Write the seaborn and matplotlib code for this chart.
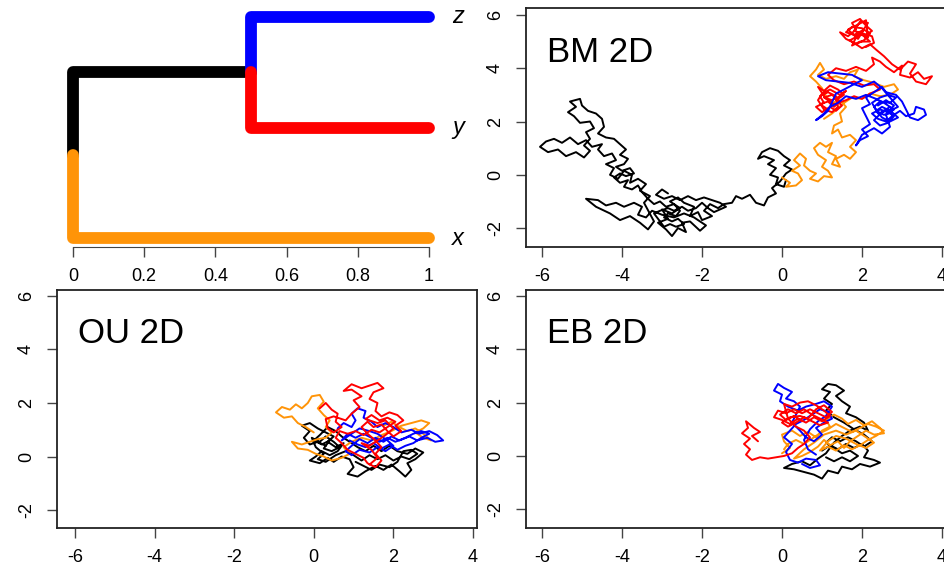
import seaborn as sns
import matplotlib
matplotlib.use('Agg')
import matplotlib.pyplot as plt

sns.set_style('white')
plt.rcParams['font.family'] = ['Liberation Sans', 'DejaVu Sans']
plt.rcParams['axes.unicode_minus'] = False
plt.rcParams['text.color'] = 'black'

# tree: tip order (bottom to top), node times
tip_names = ['x', 'y', 'z']
tip_pos = [1, 2, 3]
node_time = 0.5
root_pos = 1.75
node_pos = 2.5
tree_ticks = [0, 0.2, 0.4, 0.6, 0.8, 1]
tree_tick_labels = ['0', '0.2', '0.4', '0.6', '0.8', '1']

col_black = 'black'
col_orange = '#FF9408'
col_blue = '#0000FF'
col_red = '#FF0000'

# ---- BM 2D traces
bm_black = [(0.10,-0.20),(0.05,-0.45),(-0.15,-0.35),(-0.10,-0.10),(-0.30,0.00),(-0.15,0.25),(-0.35,0.40),(-0.20,0.55),
    (-0.45,0.70),(-0.60,0.60),(-0.50,0.85),(-0.30,1.00),(-0.10,0.90),(0.05,0.70),(0.20,0.55),(0.05,0.35),(0.25,0.20),
    (0.10,0.05),(-0.05,-0.25),(-0.25,-0.50),(-0.15,-0.70),(-0.35,-0.85),(-0.45,-1.15),(-0.65,-1.05),(-0.80,-0.75),
    (-1.00,-0.90),(-1.15,-0.80),(-1.25,-1.05),(-1.45,-1.10),(-1.60,-1.25),(-1.80,-1.10),(-1.95,-1.35),(-1.75,-1.55),
    (-2.00,-1.70),(-2.10,-1.40),(-2.30,-1.55),(-2.20,-1.20),(-2.45,-1.05),(-2.60,-0.85),(-2.80,-1.00),(-2.55,-1.25),
    (-2.75,-1.45),(-3.00,-1.30),(-2.85,-1.65),(-3.10,-1.80),(-2.90,-2.05),(-2.75,-2.30),(-2.60,-2.00),(-2.40,-2.15),
    (-2.50,-1.80),(-2.30,-1.75),(-2.05,-2.10),(-1.90,-1.90),(-2.20,-1.60),(-2.45,-1.45),(-2.70,-1.60),(-3.00,-1.50),
    (-3.25,-1.35),(-3.40,-1.60),(-3.60,-1.50),(-3.50,-1.20),(-3.70,-1.05),(-3.95,-1.20),(-4.15,-1.05),(-4.40,-1.15),
    (-4.60,-0.95),(-4.90,-0.90),(-4.65,-1.20),(-4.30,-1.45),(-4.05,-1.70),(-3.80,-1.55),(-3.55,-1.80),(-3.35,-2.05),
    (-3.20,-1.75),(-3.45,-1.05),(-3.30,-0.80),(-3.55,-0.60),(-3.40,-0.35),(-3.60,-0.15),(-3.80,-0.30),(-3.75,0.00),
    (-3.95,0.15),(-4.10,-0.15),(-4.30,0.00),(-4.20,0.25),(-4.40,0.40),(-4.15,0.55),(-4.25,0.80),(-4.45,0.70),
    (-4.60,0.95),(-4.50,1.15),(-4.75,1.05),(-4.90,1.30),(-5.10,1.15),(-5.30,1.40),(-5.50,1.20),(-5.70,1.35),
    (-5.90,1.25),(-6.05,1.05),(-5.85,0.85),(-5.60,0.95),(-5.40,0.70),(-5.15,0.85),(-4.95,0.65),(-4.80,0.90),
    (-4.95,1.10),(-4.80,1.35),(-4.90,1.60),(-4.70,1.75),(-4.80,2.00),(-5.05,1.95),(-5.20,2.20),(-5.35,2.35),
    (-5.15,2.55),(-5.30,2.75),(-5.05,2.85),(-5.00,2.60),(-4.85,2.40),(-4.65,2.30),(-4.50,2.10),(-4.45,1.80),
    (-4.60,1.55),(-4.40,1.40),(-4.20,1.35),(-4.05,1.15),(-3.90,0.95),(-4.05,0.75),(-3.85,0.60),(-3.95,0.40),
    (-4.15,0.30),(-4.00,0.15),(-3.80,0.25),(-3.70,0.05),(-3.90,-0.05),(-4.05,0.05),(-4.20,-0.10),(-4.05,-0.30),
    (-3.85,-0.20),(-3.95,-0.45),(-3.75,-0.55),(-3.60,-0.40),(-3.50,-0.65),(-3.35,-0.90),(-3.20,-1.10),(-3.05,-1.00),
    (-2.90,-1.20),(-2.70,-1.10),(-2.55,-1.35),(-2.65,-1.55),(-2.85,-1.45),(-2.95,-1.60),(-2.75,-1.75),(-2.60,-1.65),
    (-2.45,-1.85),(-2.65,-1.95),(-2.80,-1.85),(-2.95,-1.95),(-3.10,-1.65),(-3.20,-1.45),(-3.05,-1.35),(-2.85,-1.25),
    (-2.70,-1.35),(-2.50,-1.20),(-2.35,-1.35),(-2.15,-1.25),(-2.00,-1.05),(-1.85,-1.25),(-1.70,-1.40),(-1.55,-1.30),
    (-1.40,-1.20),(-1.55,-1.05),(-1.75,-0.95),(-1.95,-0.85),(-2.15,-0.95),(-2.35,-0.80),(-2.55,-0.95),(-2.75,-0.80),
    (-2.95,-0.90),(-3.15,-0.75),(-3.00,-0.55),(-2.85,-0.70)]
bm_orange = [(0.00,-0.10),(0.20,-0.30),(0.10,-0.45),(0.35,-0.40),(0.50,-0.20),(0.40,0.05),(0.25,0.15),(0.45,0.35),
    (0.30,0.55),(0.45,0.80),(0.60,0.60),(0.55,0.35),(0.70,0.15),(0.85,0.05),(0.70,-0.15),(0.90,-0.25),(1.05,-0.05),
    (1.25,-0.10),(1.15,0.15),(1.00,0.30),(1.10,0.55),(0.90,0.75),(0.80,1.00),(0.95,1.20),(1.10,1.05),(1.25,1.20),
    (1.15,0.85),(1.35,0.70),(1.25,0.40),(1.45,0.30),(1.35,0.60),(1.55,0.75),(1.70,0.60),(1.85,0.85),(1.70,1.05),
    (1.85,1.30),(1.70,1.50),(1.50,1.40),(1.40,1.70),(1.25,1.55),(1.30,1.85),(1.50,2.00),(1.45,2.30),(1.60,2.55),
    (1.45,2.80),(1.25,2.70),(1.10,2.95),(1.00,3.25),(0.85,3.50),(0.70,3.70),(0.85,3.95),(0.95,4.20),(1.05,3.95),
    (0.90,3.75),(1.10,3.60),(1.35,3.70),(1.55,3.60),(1.70,3.85),(1.90,3.95),(1.80,3.70),(2.05,3.55),(2.30,3.45),
    (2.55,3.30),(2.80,3.40),(2.90,3.20),(2.70,3.00),(2.45,2.95),(2.20,3.05),(2.00,2.85),(1.75,2.90),(1.55,2.70),
    (1.40,2.50),(1.25,2.30),(1.05,2.10)]
bm_blue = [(2.40,2.60),(2.60,2.80),(2.80,2.60),(2.65,2.35),(2.45,2.45),(2.25,2.30),(2.40,2.10),(2.60,2.00),(2.75,2.20),
    (2.95,2.40),(3.10,2.20),(3.30,2.30),(3.35,2.55),(3.55,2.45),(3.60,2.25),(3.40,2.05),(3.20,2.15),(3.00,2.75),
    (2.85,3.00),(2.60,3.10),(2.50,3.30),(2.30,3.10),(2.10,2.90),(2.20,2.65),(2.00,2.50),(2.10,2.20),(2.20,1.90),
    (2.00,1.70),(2.15,1.45),(1.95,1.30),(1.85,1.10),(2.00,1.50),(2.30,1.75),(2.50,1.55),(2.70,1.80),(2.60,2.25),
    (2.80,2.45),(2.55,2.70),(2.35,2.85),(2.10,3.00),(1.85,2.85),(1.60,2.95),(1.40,2.70),(1.20,2.55),(1.05,2.30),
    (0.85,2.05),(1.00,2.20),(1.15,2.40),(1.35,3.05),(1.55,3.20),(1.80,3.40),(2.00,3.55),(1.75,3.75),(1.45,3.80),
    (1.15,3.85),(0.90,3.70),(1.10,3.55),(1.40,3.50),(1.70,3.45),(2.00,3.30),(2.30,3.50),(2.50,3.25),(2.70,2.90),
    (2.90,2.55),(2.70,2.40),(2.50,2.55),(2.35,2.40),(2.55,2.25),(2.75,2.35),(2.90,2.15),(2.70,2.00),(2.50,2.15),
    (2.30,2.55),(2.45,2.75),(2.70,2.70),(2.85,2.90),(2.65,3.00),(2.45,2.90),(2.25,2.70),(2.40,2.30),(2.60,2.40),
    (2.80,2.20),(2.65,1.95),(2.45,1.85),(2.30,2.05),(2.50,2.35),(2.70,2.55)]
bm_red = [(1.10,2.50),(0.95,2.65),(1.15,2.75),(1.30,2.55),(1.45,2.75),(1.25,3.00),(1.05,2.90),(1.25,2.80),(1.45,2.95),
    (1.60,3.15),(1.45,3.00),(1.20,3.20),(1.00,3.05),(0.90,2.80),(1.05,2.45),(1.25,2.35),(1.40,2.55),
    (1.35,2.95),(1.15,3.10),(0.95,2.95),(1.05,2.70),(0.85,2.55),(1.00,2.35),(1.20,2.55),(1.35,2.40),(1.50,2.60),
    (1.35,2.80),(1.55,3.00),(1.40,3.20),(1.20,3.35),(1.05,3.15),(0.90,3.30),(1.10,2.85),(1.30,2.65),(1.60,2.80),
    (1.80,2.95),(2.00,2.85),(2.20,3.05),(2.45,3.20),(2.30,3.40),(2.05,3.35),(1.80,3.50),(1.55,3.40),(1.30,3.55),
    (1.15,3.75),(1.35,4.00),(1.60,3.90),(1.85,4.05),(2.10,3.90),(2.30,4.15),(2.25,4.40),(2.45,4.25),(2.60,4.05),
    (2.80,3.85),(3.00,4.10),(2.95,3.75),(3.20,3.65),(3.40,3.85),(3.55,3.60),(3.75,3.70),(3.60,3.40),(3.35,3.50),
    (3.20,3.80),(3.35,4.15),(3.15,4.25),(2.95,3.95),(2.75,4.15),(2.55,4.45),(2.35,4.70),(2.20,4.90),(2.00,4.75),
    (1.80,4.95),(1.60,5.10),(1.45,5.35),(1.65,5.20),(1.85,5.45),(1.75,5.70),(1.95,5.85),(2.10,5.60),(2.25,5.40),
    (2.05,5.20),(2.20,5.00),(1.95,5.00),(1.75,4.85),(1.90,5.30),(2.15,5.15),(2.10,5.80),(1.85,5.60),(1.65,5.45),
    (1.90,5.10),(2.05,5.45),(1.80,5.25),(1.60,5.35),(1.75,5.55),(2.00,5.50),(2.20,5.30),(2.05,5.05),(1.85,4.90),
    (1.70,5.05),(1.95,5.25),(2.15,5.70),(1.95,5.75),(1.80,5.40),(2.25,5.20),(2.30,4.95),(2.10,4.80)]

# ---- OU 2D traces
ou_black = [(0.30,0.40),(0.10,0.55),(-0.10,0.45),(-0.25,0.70),(-0.10,0.95),(-0.30,1.15),(-0.10,1.25),(0.10,1.05),
    (0.30,0.90),(0.50,0.75),(0.35,0.55),(0.55,0.35),(0.75,0.50),(0.60,0.20),(0.40,0.05),(0.20,0.20),(0.05,0.00),
    (-0.10,-0.15),(0.15,-0.25),(0.35,-0.05),(0.50,-0.20),(0.70,0.00),(0.90,-0.10),(1.00,-0.40),(0.85,-0.65),
    (1.10,-0.75),(1.30,-0.55),(1.55,-0.35),(1.75,-0.50),(1.95,-0.30),(2.15,-0.55),(2.30,-0.75),(2.45,-0.50),
    (2.35,-0.25),(2.55,-0.10),(2.75,0.15),(2.55,0.30),(2.35,0.10),(2.10,0.20),(1.90,0.40),(1.70,0.20),(1.50,0.40),
    (1.30,0.20),(1.10,0.35),(0.90,0.55),(0.70,0.75),(0.55,0.95),(0.35,1.10),(0.15,0.80),(0.00,0.60),(0.20,0.45),
    (0.40,0.60),(0.25,0.30),(0.45,0.20),(0.65,0.35),(0.50,0.55),(0.30,0.75),(0.15,0.55),(-0.05,0.70),(0.05,0.35),
    (0.25,0.10),(0.10,-0.10),(0.30,-0.20),(0.55,0.05),(0.80,0.20),(1.00,0.05),(1.20,-0.15),(1.40,0.05),(1.60,-0.10),
    (1.80,0.05),(2.00,-0.15),(2.20,0.00),(2.40,-0.10),(2.60,0.10),(2.45,0.25),(2.25,0.20),(2.10,-0.20),(1.90,-0.40),
    (1.65,-0.30),(1.45,-0.50),(1.25,-0.35),(1.05,-0.20)]
ou_orange = [(0.00,0.90),(-0.20,1.10),(-0.40,1.25),(-0.55,1.50),(-0.75,1.45),(-0.95,1.65),(-0.80,1.85),(-0.60,1.75),
    (-0.45,1.95),(-0.30,1.80),(-0.15,2.00),(-0.05,2.25),(0.15,2.30),(0.25,2.05),(0.10,1.80),(0.25,1.55),(0.40,1.35),
    (0.30,1.10),(0.45,0.90),(0.30,0.70),(0.10,0.65),(-0.10,0.55),(-0.30,0.45),(-0.55,0.55),(-0.40,0.30),(-0.15,0.25),
    (0.05,0.10),(0.25,0.00),(0.45,-0.15),(0.70,-0.05),(0.90,0.10),(0.75,0.35),(0.95,0.55),(1.20,0.70),(1.45,0.60),
    (1.70,0.80),(1.95,0.95),(2.20,1.15),(2.45,1.25),(2.70,1.35),(2.90,1.25),(2.75,1.05),(2.55,0.90),(2.75,0.70),
    (2.95,0.60),(2.75,0.85),(2.55,1.05),(2.35,0.95),(2.15,1.10),(1.95,1.30),(1.75,1.15)]
ou_blue = [(0.60,1.05),(0.75,1.25),(0.95,1.10),(1.05,1.35),(0.95,1.60),(1.10,1.80),(1.30,1.70),(1.25,1.45),(1.45,1.30),
    (1.60,1.10),(1.80,1.25),(2.00,1.10),(2.20,0.90),(2.45,1.00),(2.65,0.85),(2.90,0.95),(3.10,0.80),(3.25,0.60),
    (3.05,0.55),(2.85,0.70),(2.60,0.60),(2.40,0.75),(2.15,0.60),(1.95,0.75),(1.75,0.55),(1.55,0.70),(1.35,0.50),
    (1.15,0.65),(0.95,0.40),(0.80,0.20),(0.95,0.05),(1.15,0.25),(1.40,0.15),(1.60,0.35),(1.80,0.20),(2.00,0.40),
    (1.85,0.60),(1.60,0.85),(1.40,0.95),(1.15,1.05),(0.90,0.80),(0.70,0.60),(0.85,0.85),(1.05,0.70),(1.25,0.85),
    (1.45,0.70),(1.65,0.55),(1.85,0.70),(2.05,0.55),(2.30,0.70),(2.50,0.85),(2.70,0.95),(2.90,0.85),(2.70,0.70),
    (2.50,0.50),(2.30,0.40),(2.10,0.25),(1.90,0.45),(1.70,0.30),(1.50,0.50),(1.30,0.35),(1.10,0.45),(0.90,0.60)]
ou_red = [(0.15,1.80),(0.30,2.00),(0.45,1.75),(0.60,1.60),(0.55,1.30),(0.70,1.10),(0.50,0.90),(0.35,1.05),(0.30,1.40),
    (0.50,1.50),(0.80,1.35),(0.95,1.60),(1.15,1.85),(1.00,2.10),(1.20,2.25),(0.95,2.50),(0.75,2.45),(0.95,2.70),
    (1.20,2.55),(1.40,2.65),(1.60,2.75),(1.75,2.55),(1.50,2.40),(1.40,2.15),(1.60,2.00),(1.55,1.70),(1.70,1.50),
    (1.90,1.65),(2.10,1.55),(2.25,1.35),(2.05,1.15),(2.20,0.95),(2.00,0.75),(1.85,0.95),(1.70,1.20),(1.50,1.10),
    (1.35,1.30),(1.20,1.10),(1.35,0.85),(1.55,0.60),(1.70,0.35),(1.55,0.10),(1.70,-0.15),(1.55,-0.40),(1.35,-0.25),
    (1.25,-0.05),(1.05,0.10),(0.85,0.25),(0.70,0.50),(0.55,0.70),(0.65,0.95),(0.85,0.85),(1.05,0.95),(1.25,0.80),
    (1.45,1.00),(1.65,0.90),(1.85,1.10),(2.05,1.30),(1.85,1.45),(1.65,1.35),(1.45,1.55),(1.30,1.40),(1.60,1.25),
    (1.80,1.35),(2.00,1.05),(1.80,0.80),(1.60,0.60),(1.40,0.40),(1.20,0.50),(1.45,0.25),(1.60,-0.05),(1.40,-0.30)]

# ---- EB 2D traces
eb_black = [(1.00,0.20),(1.20,0.40),(1.40,0.25),(1.60,0.45),(1.80,0.30),(2.00,0.45),(2.15,0.20),(2.05,-0.05),
    (2.30,-0.15),(2.45,-0.25),(2.20,-0.40),(1.95,-0.30),(1.75,-0.50),(1.50,-0.40),(1.40,-0.65),(1.15,-0.55),
    (1.00,-0.85),(0.80,-0.70),(0.55,-0.60),(0.30,-0.50),(0.05,-0.45),(0.25,-0.30),(0.50,-0.20),(0.70,-0.35),
    (0.90,-0.10),(1.10,0.10),(1.30,0.50),(1.50,0.75),(1.70,0.95),(1.95,1.10),(2.15,0.95),(2.05,1.25),(1.85,1.45),
    (1.60,1.60),(1.70,1.85),(1.50,2.05),(1.35,2.25),(1.55,2.45),(1.35,2.65),(1.15,2.70),(1.00,2.50),(1.20,2.40),
    (1.05,2.15),(1.25,1.95),(1.10,1.70),(1.30,1.45),(1.55,1.25),(1.80,1.00),(2.05,0.80),(2.25,0.55),(2.05,0.35),
    (1.85,0.55),(1.65,0.70),(1.45,0.55),(1.25,0.70),(1.10,0.50),(1.30,0.30),(1.50,0.10),(1.70,0.20),(1.90,0.00),
    (1.70,-0.20),(1.50,-0.05),(1.30,-0.20),(1.10,-0.05)]
eb_orange = [(0.00,0.10),(0.20,0.30),(0.05,0.55),(0.00,0.80),(0.25,0.95),(0.45,0.75),(0.65,0.90),(0.85,0.70),
    (1.00,0.95),(1.20,1.10),(1.10,1.35),(1.30,1.55),(1.50,1.40),(1.65,1.20),(1.85,1.35),(2.05,1.15),(2.25,1.30),
    (2.45,1.05),(2.55,0.85),(2.30,0.80),(2.10,0.95),(1.90,0.75),(1.70,0.55),(1.55,0.30),(1.40,0.55),(1.20,0.40),
    (1.05,0.60),(0.90,0.35),(0.70,0.15),(0.50,0.00),(0.30,-0.10),(0.55,0.25),(0.80,0.50),(1.05,0.80),(1.35,0.95),
    (1.60,0.80),(1.85,0.95),(2.10,0.70),(2.30,0.50),(2.10,0.30),(1.85,0.45),(1.60,0.65),(1.35,0.75),(1.15,0.55),
    (0.95,0.20),(1.15,0.35),(1.35,0.20),(1.55,0.40),(1.75,0.25),(1.95,0.40),(2.15,0.60),(2.35,0.75),(2.55,0.95),
    (2.35,1.10),(2.15,1.20),(1.95,1.05),(1.75,0.90),(1.55,1.05),(1.35,1.20),(1.15,1.00),(0.95,0.85),(0.75,0.65),
    (0.55,0.45),(0.35,0.60),(0.15,0.45),(0.05,0.25)]
eb_blue = [(0.50,-0.30),(0.70,-0.45),(0.95,-0.35),(0.85,-0.15),(0.60,-0.10),(0.40,-0.25),(0.20,-0.15),(0.10,0.15),
    (0.25,0.45),(0.05,0.70),(0.20,0.95),(0.35,1.20),(0.55,1.35),(0.75,1.55),(0.95,1.75),(1.15,1.65),(1.25,1.40),
    (1.05,1.25),(0.85,1.05),(1.00,0.80),(0.80,0.55),(0.60,0.70),(0.45,0.95),(0.25,1.25),(0.35,1.55),(0.45,1.85),
    (0.30,2.05),(0.10,2.15),(0.25,2.40),(0.05,2.55),(-0.10,2.70),(-0.20,2.45),(0.00,2.30),(-0.05,2.05),(0.15,1.85),
    (0.40,1.70),(0.60,1.85),(0.85,1.95),(1.05,2.05),(1.25,1.85),(1.10,1.50),(0.90,1.30),(0.70,1.00),(0.55,0.60),
    (0.65,0.25),(0.85,0.05)]
eb_red = [(0.50,1.30),(0.30,1.50),(0.10,1.35),(-0.05,1.55),(0.15,1.75),(0.35,1.60),(0.55,1.75),(0.75,1.55),(0.95,1.40),
    (1.15,1.25),(0.95,1.15),(0.75,1.30),(0.55,1.45),(0.35,1.25),(0.15,1.10),(0.00,1.25),(0.20,1.45),(0.45,1.50),
    (0.65,1.40),(0.85,1.75),(1.05,1.90),(1.25,1.65),(1.10,1.45),
    (0.90,1.60),(0.70,1.75),(0.50,1.60),(0.30,1.75),(0.10,1.60),(-0.10,1.70),(-0.20,1.45),(0.00,1.35),(0.20,1.20),
    (0.40,1.40),(0.60,1.25),(0.80,1.45),(1.00,1.30),(1.20,1.50),(1.05,1.70),(0.85,1.90),(0.65,2.05),(0.45,2.00),
    (0.25,1.85),(0.05,1.95),(0.15,1.40),(0.35,1.10),(0.55,0.95),(0.70,0.70),(0.55,0.45),(0.40,0.30),(0.25,0.10),
    (0.05,0.00),(-0.15,-0.05),(-0.35,-0.10),(-0.55,-0.05),(-0.75,-0.15),(-0.90,0.05),(-0.80,0.25),(-0.95,0.45),
    (-0.80,0.65),(-1.00,0.85),(-0.85,1.05),(-0.90,1.30),(-0.70,1.05),(-0.55,0.90),(-0.75,0.75),(-0.60,0.55)]

panels = [
    ('BM 2D', [(bm_black, col_black), (bm_orange, col_orange), (bm_red, col_red), (bm_blue, col_blue)]),
    ('OU 2D', [(ou_black, col_black), (ou_orange, col_orange), (ou_blue, col_blue), (ou_red, col_red)]),
    ('EB 2D', [(eb_black, col_black), (eb_orange, col_orange), (eb_blue, col_blue), (eb_red, col_red)]),
]

W, H = 945, 566
fig = plt.figure(figsize=(W / 100, H / 100), dpi=100)

def box(l, t, r, b):
    return [l / W, (H - b) / H, (r - l) / W, (b - t) / H]

# ---------- tree
ax_t = fig.add_axes(box(57, 8, 477, 247))
edges = [
    ([0, 0, node_time], [root_pos, node_pos, node_pos], col_black),
    ([0, 0, 1], [root_pos, tip_pos[0], tip_pos[0]], col_orange),
    ([node_time, node_time, 1], [node_pos, tip_pos[2], tip_pos[2]], col_blue),
    ([node_time, node_time, 1], [node_pos, tip_pos[1], tip_pos[1]], col_red),
]
for ex, ey, c in edges:
    sns.lineplot(x=ex, y=ey, sort=False, estimator=None, color=c, lw=8.5,
                 solid_capstyle='round', solid_joinstyle='round', ax=ax_t, clip_on=False)
for name, yp in zip(tip_names, tip_pos):
    ax_t.text(1.065, yp, name, style='italic', fontsize=17, va='center', ha='left')
ax_t.set_xlim(-0.045, 1.135)
ax_t.set_ylim(0.92, 3.08)
for s in ['top', 'right', 'left']:
    ax_t.spines[s].set_visible(False)
ax_t.spines['bottom'].set_bounds(0, 1)
ax_t.spines['bottom'].set_color('#444444')
ax_t.set_xticks(tree_ticks)
ax_t.set_xticklabels(tree_tick_labels)
ax_t.set_yticks([])
ax_t.tick_params(axis='x', direction='out', length=7, width=1, color='#444444', labelcolor='black',
                 labelsize=13, pad=8, bottom=True)
ax_t.set_xlabel('')
ax_t.set_ylabel('')

# ---------- walk panels
rects = [box(526, 8, 958, 247), box(57, 290, 477, 528), box(526, 290, 958, 528)]
xlims = [(-6.4, 4.4), (-6.45, 4.1), (-6.4, 4.4)]
ylims = [(-2.71, 6.26), (-2.67, 6.22), (-2.7, 6.22)]
for (label, traces), rect, xl, yl in zip(panels, rects, xlims, ylims):
    ax = fig.add_axes(rect)
    for tr, c in traces:
        xs = [p[0] for p in tr]
        ys = [p[1] for p in tr]
        sns.lineplot(x=xs, y=ys, sort=False, estimator=None, color=c, lw=1.4, ax=ax)
    ax.set_xlim(*xl)
    ax.set_ylim(*yl)
    ax.set_xticks([-6, -4, -2, 0, 2, 4])
    ax.set_yticks([-2, 0, 2, 4, 6])
    ax.tick_params(direction='out', length=7, width=1, color='#444444', labelcolor='black',
                   labelsize=13, bottom=True, left=True)
    ax.tick_params(axis='x', pad=8)
    ax.tick_params(axis='y', pad=9)
    for t in ax.get_yticklabels():
        t.set_rotation(90)
        t.set_va('center')
    for s in ax.spines.values():
        s.set_color('#222222')
        s.set_linewidth(1.3)
    ax.text(xl[0] + 0.52, 4.25, label, fontsize=25, va='baseline', ha='left')
    ax.set_xlabel('')
    ax.set_ylabel('')

fig.savefig('out.png', dpi=100)
